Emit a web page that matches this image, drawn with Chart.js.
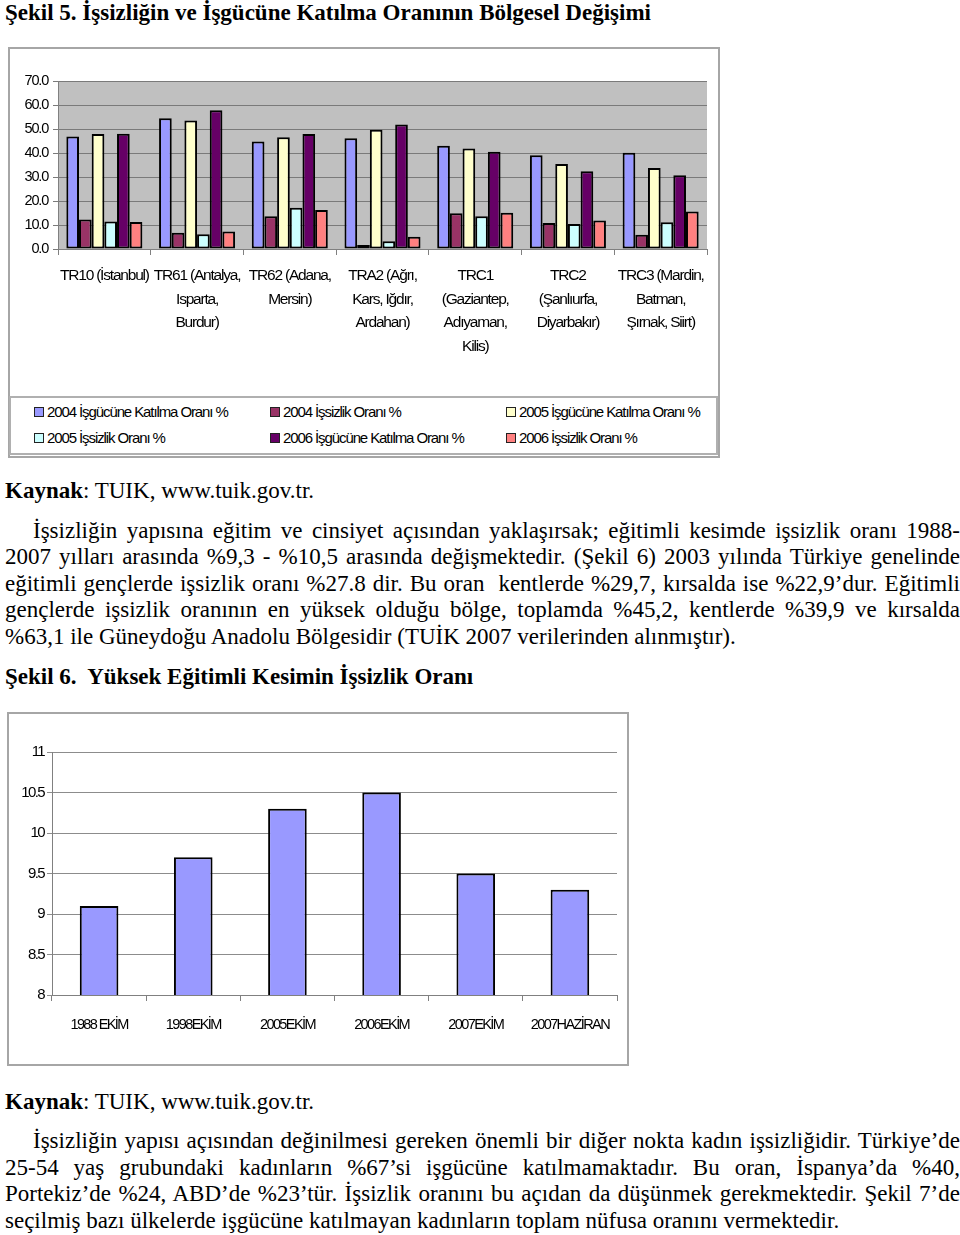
<!DOCTYPE html>
<html lang="tr">
<head>
<meta charset="utf-8">
<script src="https://cdn.jsdelivr.net/npm/chart.js@4.4.0/dist/chart.umd.min.js"></script>
<style>
  body { margin: 0; width: 960px; height: 1235px; position: relative; background: #fff; color: #000;
         font-family: 'Liberation Serif', 'Times New Roman', serif; overflow: hidden; }
  .t { position: absolute; left: 5px; width: 955px; font-size: 23px; line-height: 26px; white-space: nowrap; }
  .j { text-align: justify; text-align-last: justify; white-space: normal; }
  .ind { left: 33px; width: 927px; }
  .frame { position: absolute; border: 2px solid #a6a6a6; box-sizing: border-box; }
  .box { position: absolute; }
  #legend1 { position: absolute; left: 9px; top: 396px; width: 709px; height: 59px; box-sizing: border-box;
             border: 2px solid #b0b0b0; padding: 5px 0 0 23px; display: grid;
             grid-template-columns: 236px 236px 236px; grid-auto-rows: 26px; white-space: nowrap;
             font-family: 'Liberation Sans', Arial, sans-serif; font-size: 15px; letter-spacing: -1.1px; }
  #legend1 span.sw { display: inline-block; width: 8px; height: 8px; border: 1px solid #222; margin-right: 3px; vertical-align: 0px; }
</style>
</head>
<body>

<div class="t" style="top:0px;font-weight:bold;">Şekil 5. İşsizliğin ve İşgücüne Katılma Oranının Bölgesel Değişimi</div>

<div class="frame" style="left:8px;top:47px;width:712px;height:411px;"></div>
<div class="box" style="left:9px;top:48px;width:710px;height:342px;"><canvas id="chart1"></canvas></div>
<div id="legend1"></div>

<div class="t" style="top:478px;"><b>Kaynak</b>: TUIK, www.tuik.gov.tr.</div>

<div class="t j ind" style="top:518px;">İşsizliğin yapısına eğitim ve cinsiyet açısından yaklaşırsak; eğitimli kesimde işsizlik oranı 1988-</div>
<div class="t j" style="top:544px;">2007 yılları arasında %9,3 - %10,5 arasında değişmektedir. (Şekil 6) 2003 yılında Türkiye genelinde</div>
<div class="t j" style="top:571px;">eğitimli gençlerde işsizlik oranı %27.8 dir. Bu oran&nbsp; kentlerde %29,7, kırsalda ise %22,9’dur. Eğitimli</div>
<div class="t j" style="top:597px;">gençlerde işsizlik oranının en yüksek olduğu bölge, toplamda %45,2, kentlerde %39,9 ve kırsalda</div>
<div class="t" style="top:624px;">%63,1 ile Güneydoğu Anadolu Bölgesidir (TUİK 2007 verilerinden alınmıştır).</div>

<div class="t" style="top:664px;font-weight:bold;">Şekil 6.&nbsp; Yüksek Eğitimli Kesimin İşsizlik Oranı</div>

<div class="frame" style="left:7px;top:712px;width:622px;height:354px;"></div>
<div class="box" style="left:8px;top:713px;width:620px;height:352px;"><canvas id="chart2"></canvas></div>

<div class="t" style="top:1089px;"><b>Kaynak</b>: TUIK, www.tuik.gov.tr.</div>

<div class="t j ind" style="top:1128px;">İşsizliğin yapısı açısından değinilmesi gereken önemli bir diğer nokta kadın işsizliğidir. Türkiye’de</div>
<div class="t j" style="top:1155px;">25-54 yaş grubundaki kadınların %67’si işgücüne katılmamaktadır. Bu oran, İspanya’da %40,</div>
<div class="t j" style="top:1181px;">Portekiz’de %24, ABD’de %23’tür. İşsizlik oranını bu açıdan da düşünmek gerekmektedir. Şekil 7’de</div>
<div class="t" style="top:1208px;">seçilmiş bazı ülkelerde işgücüne katılmayan kadınların toplam nüfusa oranını vermektedir.</div>

<script>
// Şekil 5 - bölgeler ve oranlar
const regions = [
  "TR10 (İstanbul)",
  ["TR61 (Antalya,", "Isparta,", "Burdur)"],
  ["TR62 (Adana,", "Mersin)"],
  ["TRA2 (Ağrı,", "Kars, Iğdır,", "Ardahan)"],
  ["TRC1", "(Gaziantep,", "Adıyaman,", "Kilis)"],
  ["TRC2", "(Şanlıurfa,", "Diyarbakır)"],
  ["TRC3 (Mardin,", "Batman,", "Şırnak, Siirt)"]
];
const seriesNames = [
  "2004 İşgücüne Katılma Oranı %",
  "2004 İşsizlik Oranı %",
  "2005 İşgücüne Katılma Oranı %",
  "2005 İşsizlik Oranı %",
  "2006 İşgücüne Katılma Oranı %",
  "2006 İşsizlik Oranı %"
];
const seriesColors = ["#9999ff", "#993366", "#ffffcc", "#ccffff", "#660066", "#ff8080"];
const katilma2004 = [46.9, 54.5, 44.8, 46.1, 43.0, 39.1, 40.1];
const issizlik2004 = [12.3, 6.8, 13.6, 1.7, 14.9, 10.8, 5.9];
const katilma2005 = [47.9, 53.5, 46.6, 49.7, 41.9, 35.4, 33.7];
const issizlik2005 = [11.5, 6.1, 17.2, 3.2, 13.6, 10.4, 11.1];
const katilma2006 = [48.0, 57.8, 47.9, 51.9, 40.5, 32.4, 30.7];
const issizlik2006 = [11.2, 7.3, 16.2, 5.1, 15.1, 11.9, 15.6];

// Şekil 6 - yüksek eğitimli işsizlik
const periods = ["1988 EKİM", "1998EKİM", "2005EKİM", "2006EKİM", "2007EKİM", "2007HAZİRAN"];
const egitimliIssizlik = [9.1, 9.7, 10.3, 10.5, 9.5, 9.3];

Chart.defaults.font.family = "'Liberation Sans', Arial, sans-serif";
Chart.defaults.color = "#000";
Chart.defaults.animation = false;

// gray/white plot area + tighter letters (the original uses a narrow font)
const plotBg = {
  id: "plotBg",
  beforeDraw(chart, args, opts) {
    const a = chart.chartArea;
    const ctx = chart.ctx;
    ctx.letterSpacing = opts.spacing;
    ctx.save();
    ctx.fillStyle = opts.color;
    ctx.fillRect(a.left, a.top, a.right - a.left, a.bottom - a.top);
    ctx.restore();
  }
};

const allSeries = [katilma2004, issizlik2004, katilma2005, issizlik2005, katilma2006, issizlik2006];

const chart1 = new Chart(document.getElementById("chart1"), {
  type: "bar",
  plugins: [plotBg],
  data: {
    labels: regions,
    datasets: allSeries.map((vals, i) => ({
      label: seriesNames[i],
      data: vals,
      backgroundColor: seriesColors[i],
      borderColor: "#000",
      borderWidth: 2,
      borderSkipped: false,
      categoryPercentage: 0.82,
      barPercentage: 1.0
    }))
  },
  options: {
    responsive: true,
    maintainAspectRatio: false,
    layout: { padding: { top: 33, right: 12, left: 0, bottom: 0 } },
    plugins: { legend: { display: false }, tooltip: { enabled: false }, plotBg: { color: "#c0c0c0", spacing: "-1.2px" } },
    scales: {
      x: {
        afterFit(s) { s.height = 141; s.paddingLeft = 0; s.paddingRight = 0; },
        grid: { drawOnChartArea: false, offset: true, tickLength: 6, color: "#808080" },
        border: { color: "#808080", width: 1 },
        ticks: { font: { size: 15.5, lineHeight: 1.516 }, padding: 9, maxRotation: 0, autoSkip: false }
      },
      y: {
        min: 0, max: 70,
        afterFit(s) { s.width = 49; },
        grid: { color: "#7a7a7a", lineWidth: 1, tickLength: 5 },
        border: { color: "#808080", width: 1 },
        ticks: { stepSize: 10, font: { size: 14.5 }, padding: 5, callback: v => v.toFixed(1) }
      }
    }
  }
});

// legend in 3 columns like the original
const legendEl = document.getElementById("legend1");
chart1.data.datasets.forEach(ds => {
  const item = document.createElement("div");
  item.innerHTML = '<span class="sw" style="background:' + ds.backgroundColor + '"></span>' + ds.label;
  legendEl.appendChild(item);
});

new Chart(document.getElementById("chart2"), {
  type: "bar",
  plugins: [plotBg],
  data: {
    labels: periods,
    datasets: [{
      data: egitimliIssizlik,
      backgroundColor: "#9999ff",
      borderColor: "#000",
      borderWidth: 2,
      borderSkipped: false,
      categoryPercentage: 1.0,
      barPercentage: 0.41
    }]
  },
  options: {
    responsive: true,
    maintainAspectRatio: false,
    layout: { padding: { top: 39, right: 11, left: 0, bottom: 0 } },
    plugins: { legend: { display: false }, tooltip: { enabled: false }, plotBg: { color: "#fff", spacing: "-1.6px" } },
    scales: {
      x: {
        afterFit(s) { s.height = 70; s.paddingLeft = 0; s.paddingRight = 0; },
        grid: { drawOnChartArea: false, offset: true, tickLength: 6, color: "#808080" },
        border: { color: "#808080", width: 1 },
        ticks: { font: { size: 14.5 }, padding: 15, maxRotation: 0, autoSkip: false }
      },
      y: {
        min: 8, max: 11,
        afterFit(s) { s.width = 44; },
        grid: { color: "#8c8c8c", lineWidth: 1, tickLength: 5 },
        border: { color: "#808080", width: 1 },
        ticks: { stepSize: 0.5, font: { size: 15 }, padding: 3, callback: v => String(v) }
      }
    }
  }
});
</script>
</body>
</html>
